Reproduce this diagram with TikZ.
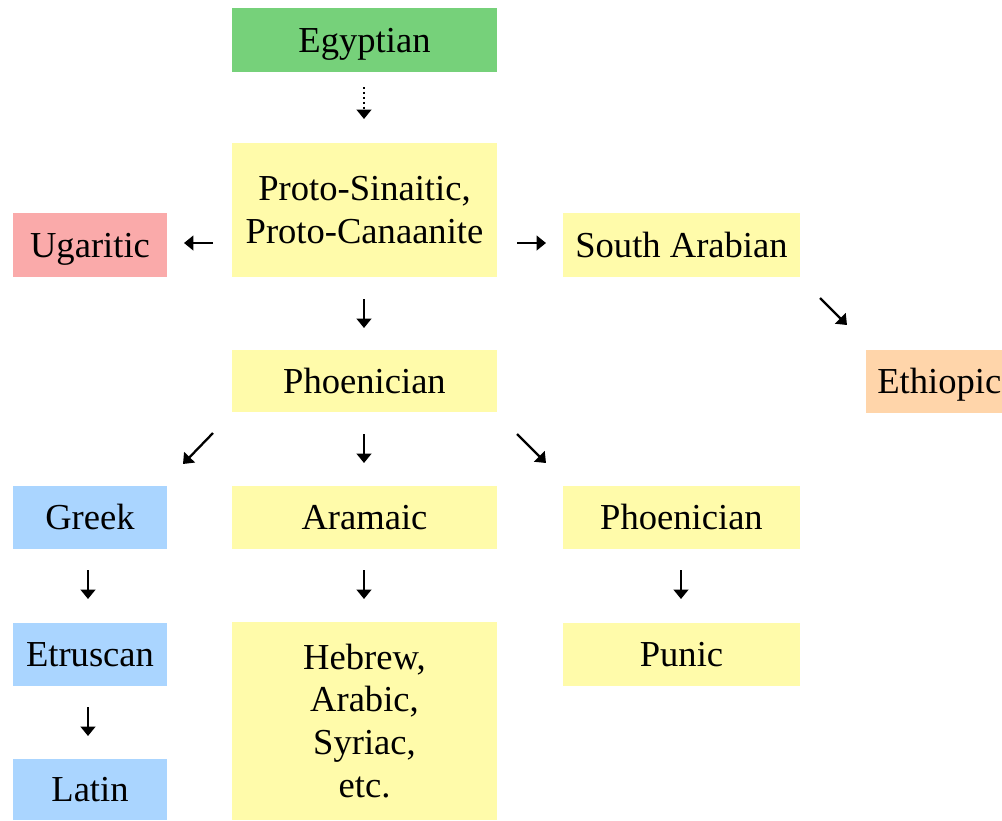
\documentclass[tikz,border=0pt]{standalone}
\usepackage{fontspec}
\setmainfont{Liberation Serif}
\usetikzlibrary{arrows.meta}
\definecolor{cgreen}{RGB}{118,209,122}
\definecolor{cyellow}{RGB}{255,251,170}
\definecolor{cred}{RGB}{250,170,170}
\definecolor{corange}{RGB}{255,213,170}
\definecolor{cblue}{RGB}{170,213,255}
\tikzset{
  box/.style={fill=#1, draw=none, inner sep=0pt, align=center,
    font=\fontsize{10.4}{12.2}\selectfont, text=black},
  oneline/.style={text height=6.9pt, text depth=0pt},
  arr/.style={line width=0.65pt, -{Triangle[width=4.2pt,length=2.7pt]}},
  darr/.style={arr, dash pattern=on 0.7pt off 0.7pt}
}
\begin{document}
\begin{tikzpicture}[x=0.01cm,y=-0.01cm]
\useasboundingbox (0,0) rectangle (1002,820);
\node[box=cgreen, oneline, minimum width=2.65cm, minimum height=0.64cm] (egy) at (364.5,40) {Egyptian};
\node[box=cyellow, minimum width=2.65cm, minimum height=1.34cm] (proto) at (364.5,210) {Proto-Sinaitic,\\Proto-Canaanite};
\node[box=cred, oneline, minimum width=1.54cm, minimum height=0.64cm] (uga) at (90,245) {Ugaritic};
\node[box=cyellow, oneline, minimum width=2.37cm, minimum height=0.64cm] (sar) at (681.5,245) {South Arabian};
\node[box=cyellow, oneline, minimum width=2.65cm, minimum height=0.62cm] (phoe) at (364.5,381) {Phoenician};
\node[box=corange, oneline, minimum width=1.36cm, minimum height=0.63cm] (eth) at (934,381.5) {\hspace{3pt}Ethiopic};
\node[box=cblue, oneline, minimum width=1.54cm, minimum height=0.63cm] (greek) at (90,517.5) {Greek};
\node[box=cyellow, oneline, minimum width=2.65cm, minimum height=0.63cm] (aram) at (364.5,517.5) {Aramaic};
\node[box=cyellow, oneline, minimum width=2.37cm, minimum height=0.63cm] (phoe2) at (681.5,517.5) {Phoenician};
\node[box=cblue, oneline, minimum width=1.54cm, minimum height=0.63cm] (etr) at (90,654.5) {Etruscan};
\node[box=cyellow, oneline, minimum width=2.37cm, minimum height=0.63cm] (pun) at (681.5,654.5) {Punic};
\node[box=cyellow, minimum width=2.65cm, minimum height=1.98cm] (heb) at (364.5,721) {Hebrew,\\Arabic,\\Syriac,\\etc.};
\node[box=cblue, oneline, minimum width=1.54cm, minimum height=0.61cm] (lat) at (90,789.5) {Latin};
% arrow end points
\coordinate (a1s) at (364,87);  \coordinate (a1e) at (364,119);
\coordinate (a2s) at (213,243); \coordinate (a2e) at (184,243);
\coordinate (a3s) at (517,243); \coordinate (a3e) at (546,243);
\coordinate (a4s) at (364,299); \coordinate (a4e) at (364,328);
\coordinate (a5s) at (820,298); \coordinate (a5e) at (847,325);
\coordinate (a6s) at (213,433); \coordinate (a6e) at (183,464);
\coordinate (a7s) at (364,434); \coordinate (a7e) at (364,463);
\coordinate (a8s) at (517,434); \coordinate (a8e) at (546,463);
\coordinate (a9s) at (88,570);  \coordinate (a9e) at (88,599);
\coordinate (a10s) at (364,570); \coordinate (a10e) at (364,599);
\coordinate (a11s) at (681,570); \coordinate (a11e) at (681,599);
\coordinate (a12s) at (88,707); \coordinate (a12e) at (88,736);
\draw[darr] (a1s) -- (a1e);
\foreach \i in {2,...,12} { \draw[arr] (a\i s) -- (a\i e); }
\end{tikzpicture}
\end{document}
